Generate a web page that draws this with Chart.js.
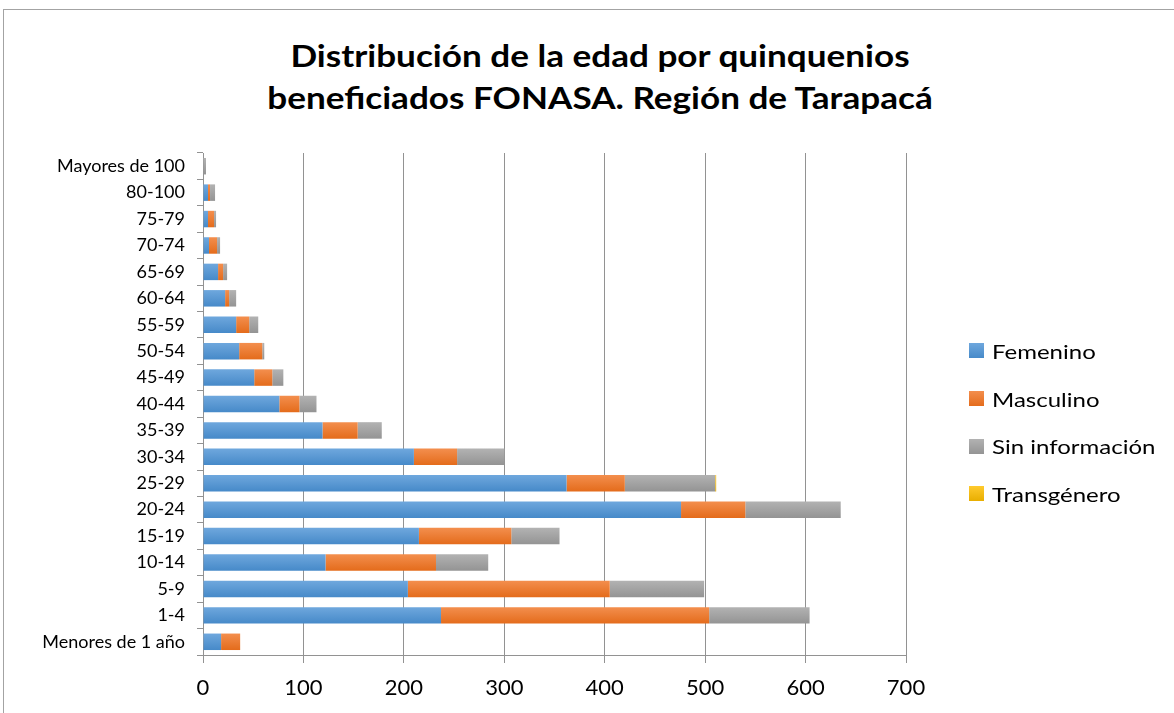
<!DOCTYPE html>
<html>
<head>
<meta charset="utf-8">
<script src="https://cdn.jsdelivr.net/npm/chart.js@4.4.0/dist/chart.umd.min.js"></script>
<style>
  body { margin: 0; background: #fff; font-family: Lato, "Open Sans", sans-serif; }
  #wrap { position: relative; width: 1174px; height: 713px; overflow: hidden; }
  #marco { position: absolute; left: 3px; top: 9px; width: 1200px; height: 800px; border: 1px solid #a3a3a3; box-sizing: border-box; }
  #titulo { position: absolute; left: 0; top: 34px; width: 1200px; text-align: center; font-weight: bold; font-size: 30px; line-height: 42px; color: #000; transform: scaleX(1.17); transform-origin: 600px 0; }
  #leyenda { position: absolute; left: 969px; top: 327px; }
  .item { height: 47.7px; display: flex; align-items: center; font-size: 20px; color: #000; white-space: nowrap; }
  .item span.cuadro { width: 15px; height: 15px; margin-right: 8px; display: inline-block; }
  .item span.txt { display: inline-block; transform: scaleX(1.2); transform-origin: 0 50%; }
  canvas { position: absolute; left: 0; top: 0; }
</style>
</head>
<body>
<div id="wrap">
  <div id="marco"></div>
  <div id="titulo">Distribución de la edad por quinquenios<br>beneficiados FONASA. Región de Tarapacá</div>
  <canvas id="grafico" width="1174" height="713"></canvas>
  <div id="leyenda"></div>
</div>
<script>
// grupos de edad, de abajo hacia arriba
const edades = ["Menores de 1 año", "1-4", "5-9", "10-14", "15-19", "20-24", "25-29", "30-34", "35-39",
  "40-44", "45-49", "50-54", "55-59", "60-64", "65-69", "70-74", "75-79", "80-100", "Mayores de 100"];

const femenino     = [18, 237, 204, 122, 215, 476, 362, 210, 119, 76, 51, 36, 33, 22, 15, 6, 5, 5, 0];
const masculino    = [19, 267, 201, 110, 92, 64, 58, 43, 35, 20, 18, 23, 13, 4, 5, 8, 6, 2, 0];
const sinInfo      = [0, 100, 94, 52, 48, 95, 90, 47, 24, 17, 11, 2, 9, 7, 4, 3, 2, 5, 3];
const transgenero  = [0, 0, 0, 0, 0, 0, 1, 0, 0, 0, 0, 0, 0, 0, 0, 0, 0, 0, 0];

const series = ["Femenino", "Masculino", "Sin información", "Transgénero"];
const valores = [femenino, masculino, sinInfo, transgenero];

// degradado tipo excel: claro arriba, oscuro abajo
const claros  = ["#6ea7dd", "#f38e4d", "#b2b2b2", "#ffca2e"];
const oscuros = ["#478ac9", "#e46c1c", "#949494", "#e8ae00"];

const ticksX = [0, 100, 200, 300, 400, 500, 600, 700];

const fuente = "Lato, 'Open Sans', sans-serif";

function degradado(i) {
  return (c) => {
    const ejeY = c.chart.scales.y;
    if (!ejeY || c.dataIndex === undefined) return oscuros[i];
    const py = ejeY.getPixelForValue(c.dataIndex);
    if (!Number.isFinite(py)) return oscuros[i];
    const g = c.chart.ctx.createLinearGradient(0, py - 8, 0, py + 8);
    g.addColorStop(0, claros[i]);
    g.addColorStop(1, oscuros[i]);
    return g;
  };
}

const ctx = document.getElementById('grafico');
const grafico = new Chart(ctx, {
  type: 'bar',
  data: {
    labels: edades,
    datasets: series.map((s, i) => ({
      label: s,
      data: valores[i],
      backgroundColor: degradado(i),
      borderWidth: 0,
      categoryPercentage: 0.8,
      barPercentage: 0.78
    }))
  },
  options: {
    indexAxis: 'y',
    responsive: false,
    animation: false,
    layout: { padding: { left: 0, right: 268, top: 153, bottom: 0 } },
    plugins: {
      legend: { display: false },
      title: { display: false },
      tooltip: { enabled: false }
    },
    scales: {
      x: {
        stacked: true,
        min: 0,
        max: 700,
        afterBuildTicks: (s) => { s.ticks = ticksX.map(v => ({ value: v })); },
        afterFit: (s) => { s.height = 58; },
        ticks: { color: '#000', font: { family: fuente, size: 22 }, padding: 12 },
        grid: { color: '#929292', lineWidth: 1, tickLength: 8 },
        border: { color: '#929292' }
      },
      y: {
        stacked: true,
        reverse: true,
        afterFit: (s) => { s.width = 203; },
        ticks: { color: '#000', font: { family: fuente, size: 18 }, padding: 12, autoSkip: false },
        grid: { drawOnChartArea: false, color: '#929292', tickLength: 6 },
        border: { color: '#929292' }
      }
    }
  }
});

// leyenda
const leyenda = document.getElementById('leyenda');
series.forEach((s, i) => {
  const it = document.createElement('div');
  it.className = 'item';
  it.innerHTML = `<span class="cuadro" style="background:linear-gradient(${claros[i]}, ${oscuros[i]})"></span><span class="txt">${s}</span>`;
  leyenda.appendChild(it);
});
</script>
</body>
</html>
